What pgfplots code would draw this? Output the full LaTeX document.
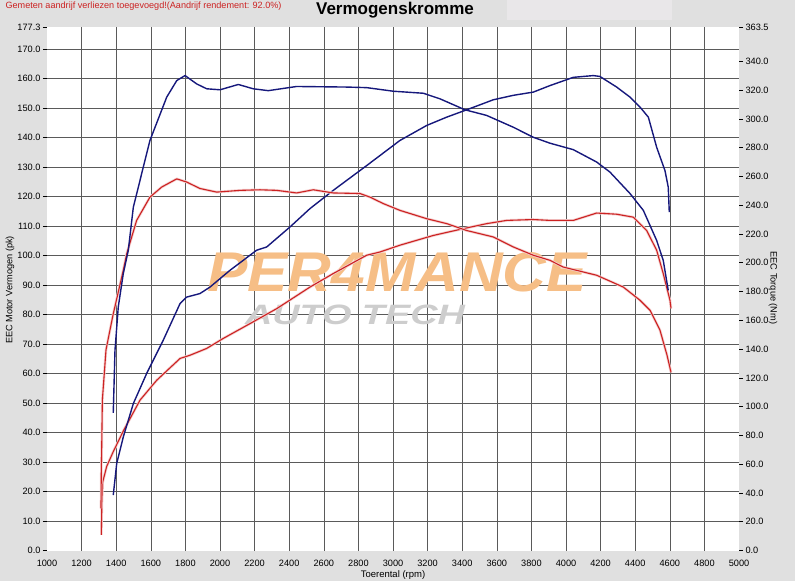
\documentclass[border=0pt]{standalone}
\usepackage{fontspec}
\setmainfont{Liberation Sans}
\usepackage{pgfplots}
\usepackage{pgfplotstable}
\pgfplotsset{compat=1.18}

\definecolor{bg}{HTML}{E0E0E0}
\definecolor{bglight}{HTML}{E9E7E9}
\definecolor{gridc}{HTML}{5A5A5A}
\definecolor{navy}{HTML}{16187C}
\definecolor{dred}{HTML}{CC2222}
\definecolor{logoor}{HTML}{F6BE86}
\definecolor{logogr}{HTML}{CDCDCD}

% rpm / pk
\pgfplotstableread{
rpm pk
1383 18.8
1403 29.5
1441 38.5
1499 49.8
1576 60.0
1672 71.3
1769 83.7
1807 85.9
1884 87.1
1942 89.3
2058 95.0
2212 101.8
2270 102.9
2405 109.7
2520 115.9
2655 122.1
2848 130.5
3040 139.0
3195 144.1
3310 146.9
3426 149.4
3580 152.8
3695 154.3
3811 155.4
3907 157.6
4042 160.4
4158 161.0
4196 160.7
4293 157.1
4370 153.7
4428 150.3
4476 146.9
4524 136.7
4572 128.8
4591 123.2
4597 114.7
}\bluepower

\pgfplotstableread{
rpm pk
1314 5.3
1317 15.4
1322 23.2
1345 28.5
1383 33.5
1441 40.5
1538 51.0
1634 57.7
1769 65.1
1827 66.2
1923 68.5
2019 71.9
2173 76.9
2328 82.0
2520 89.3
2655 93.9
2848 100.1
2925 101.2
3040 103.5
3233 106.8
3406 109.1
3541 110.8
3657 111.9
3811 112.2
3907 111.9
4042 111.9
4177 114.4
4293 114.0
4389 113.0
4466 108.5
4524 101.8
4562 93.9
4601 84.8
4607 82.1
}\redpower

% rpm / Nm
\pgfplotstableread{
rpm nm
1383 95.7
1393 139.2
1412 169.3
1441 192.5
1470 208.7
1499 238.6
1595 285.0
1692 315.1
1750 326.6
1798 330.1
1865 324.3
1923 320.9
2000 320.2
2106 323.9
2192 320.9
2279 319.6
2443 322.5
2732 322.1
2848 321.7
3002 319.2
3175 317.8
3272 313.9
3416 306.3
3541 302.4
3695 294.2
3811 287.2
3907 283.1
4042 278.6
4177 270.0
4254 263.0
4370 248.1
4447 236.4
4524 215.5
4562 201.7
4591 180.8
}\bluetorque

\pgfplotstableread{
rpm nm
1312 29.3
1314 56.0
1316 69.7
1320 104.6
1341 139.4
1381 163.4
1441 194.8
1461 206.3
1518 229.4
1595 245.6
1663 252.6
1750 258.3
1807 256.1
1884 251.6
1981 249.1
2116 250.3
2231 250.7
2328 250.3
2443 248.5
2539 250.7
2655 248.5
2809 248.1
2867 245.6
2944 241.1
3040 236.4
3195 230.6
3310 227.2
3426 222.4
3580 217.9
3695 211.0
3811 205.2
3907 201.7
3984 197.0
4177 191.3
4331 183.1
4428 173.9
4486 166.9
4543 153.2
4584 135.7
4607 123.8
}\redtorque

\pgfplotsset{
  base/.style={
    scale only axis, width=692pt, height=523pt,
    at={(47pt,30.5pt)}, anchor=south west,
    xmin=1000, xmax=5000,
    /pgf/number format/assume math mode=true,
    tick label style={font=\fontsize{9.2}{11}\selectfont},
  },
  bluecurve/.style={navy, line width=1.4pt, line join=round, no markers},
  redcurve/.style={dred, line width=1.1pt, line join=round, no markers,
    preaction={draw, dred!22, line width=2.6pt}},
}

\begin{document}
\begin{tikzpicture}[x=1pt,y=1pt]
\fill[bg] (0,0) rectangle (795,581);
\fill[bglight] (507,561) rectangle (672,581);
\fill[white] (47,30.5) rectangle (739,553.5);
\useasboundingbox (0,0) rectangle (795,581);

\node[anchor=west, text=dred, font=\fontsize{9.1}{11}\selectfont] at (2,575)
  {Gemeten aandrijf verliezen toegevoegd!(Aandrijf rendement: 92.0\%)};
\node[font=\fontsize{17}{20}\bfseries\selectfont] at (395,571) {Vermogenskromme};

% grid, left and bottom ticks
\begin{axis}[base,
  ymin=0, ymax=177.3,
  axis line style={draw=none},
  xtick={1000,1200,...,5000},
  minor xtick={1200,1400,...,4800},
  ytick={0,10,...,170,177.3},
  minor ytick={10,20,...,170},
  xminorgrids, yminorgrids,
  minor grid style={gridc, line width=0.6pt},
  minor tick length=0pt,
  xtick style={draw=none},
  ytick pos=left, xtick pos=bottom,
  tick align=outside, major tick length=4pt,
  ytick style={black, line width=0.5pt},
  xticklabel style={yshift=-2.5pt, /pgf/number format/.cd, fixed, 1000 sep={}},
  yticklabel style={xshift=1pt, /pgf/number format/.cd, fixed, fixed zerofill, precision=1},
]
\end{axis}

% watermark
\node[inner sep=0pt, font=\fontsize{56}{56}\bfseries\itshape\selectfont, text=logoor, xscale=1.08] at (397,309) {PER4MANCE};
\node[inner sep=0pt, font=\fontsize{28}{28}\bfseries\itshape\selectfont, text=logogr, xscale=1.35] at (355,266) {AUTO TECH};

% power (pk)
\begin{axis}[base, ymin=0, ymax=177.3, hide axis]
\addplot[redcurve] table[x=rpm, y=pk] {\redpower};
\addplot[bluecurve] table[x=rpm, y=pk] {\bluepower};
\end{axis}

% torque (Nm)
\begin{axis}[base,
  ymin=0, ymax=363.5,
  hide x axis,
  axis y line*=right,
  y axis line style={draw=none},
  ytick={0,20,...,340,363.5},
  tick align=outside, major tick length=4pt,
  ytick style={black, line width=0.5pt},
  yticklabel style={xshift=-1pt, /pgf/number format/.cd, fixed, fixed zerofill, precision=1},
]
\addplot[redcurve] table[x=rpm, y=nm] {\redtorque};
\addplot[bluecurve] table[x=rpm, y=nm] {\bluetorque};
\end{axis}

\node[rotate=90, font=\fontsize{9.2}{11}\selectfont] at (10,291) {EEC Motor Vermogen (pk)};
\node[rotate=-90, font=\fontsize{9.2}{11}\selectfont] at (773,293) {EEC Torque (Nm)};
\node[font=\fontsize{9.5}{11}\selectfont] at (393,6) {Toerental (rpm)};
\end{tikzpicture}
\end{document}
